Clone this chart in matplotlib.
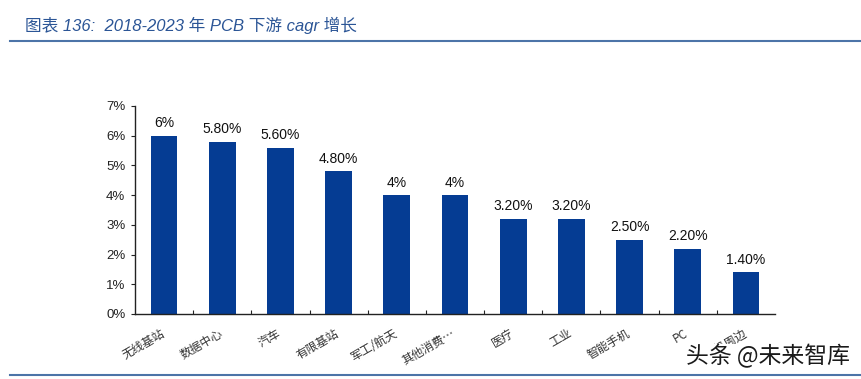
import numpy as np
import matplotlib
matplotlib.use("Agg")
import matplotlib.pyplot as plt
from matplotlib.ticker import FuncFormatter, FixedLocator

# data
categories = ["无线基站", "数据中心", "汽车", "有限基站", "军工/航天", "其他消费…",
              "医疗", "工业", "智能手机", "PC", "计算机周边"]
cagr = [0.060, 0.058, 0.056, 0.048, 0.040, 0.040, 0.032, 0.032, 0.025, 0.022, 0.014]
value_labels = ["6%", "5.80%", "5.60%", "4.80%", "4%", "4%", "3.20%", "3.20%",
                "2.50%", "2.20%", "1.40%"]
title = "图表 136:  2018-2023 年 PCB 下游 cagr 增长"
watermark = "头条 @未来智库"

bar_color = "#053C93"
title_color = "#2B5596"
line_color = "#4C74A8"

plt.rcParams["font.family"] = ["Liberation Sans", "Noto Sans CJK SC", "DejaVu Sans"]

W, H = 862, 379
fig = plt.figure(figsize=(W / 100, H / 100), dpi=100)
ax = fig.add_axes([135 / W, (H - 314) / H, 640 / W, 208 / H])

x = np.arange(len(categories))
ax.bar(x, cagr, width=0.46, color=bar_color, zorder=2)
ax.set_xlim(-0.5, len(categories) - 0.5)
ax.set_ylim(0, 0.07)

# value labels above bars
for xi, v, lab in zip(x, cagr, value_labels):
    ax.annotate(lab, (xi, v), xytext=(0, 4), textcoords="offset points",
                ha="center", va="bottom", fontsize=10, color="#111111")

# axes styling
for s in ["top", "right"]:
    ax.spines[s].set_visible(False)
for s in ["left", "bottom"]:
    ax.spines[s].set_color("#222222")
    ax.spines[s].set_linewidth(1.0)

ax.set_yticks(np.arange(0, 0.071, 0.01))
ax.yaxis.set_major_formatter(FuncFormatter(lambda v, p: f"{v * 100:.0f}%"))
ax.tick_params(axis="y", direction="out", length=3, width=0.8,
               labelsize=9.5, colors="#222222", pad=4)

# ticks between bars, labels at bar centres
ax.xaxis.set_major_locator(FixedLocator(x[:-1] + 0.5))
ax.tick_params(axis="x", which="major", direction="in", length=3, width=0.8,
               labelbottom=False, colors="#222222")
for xi, c in zip(x, categories):
    ax.text(xi + 0.05, -0.0042, c, rotation=30, ha="right", va="top",
            fontsize=8.5, color="#333333",
            family=["Noto Sans CJK SC", "DejaVu Sans"])

# header
fig.text(25 / W, 1 - 25 / H, title, ha="left", va="center", fontsize=12,
         style="italic", color=title_color,
         family=["Liberation Sans", "Noto Sans CJK SC"])
fig.add_artist(plt.Line2D([10 / W, 1], [1 - 41 / H, 1 - 41 / H],
                          color=line_color, lw=1.5, transform=fig.transFigure))
fig.add_artist(plt.Line2D([10 / W, 1], [1 - 375 / H, 1 - 375 / H],
                          color=line_color, lw=1.5, transform=fig.transFigure))

# watermark
fig.text(850 / W, 1 - 356 / H, watermark, ha="right", va="center",
         fontsize=16.5, color="#1a1a1a",
         family=["Noto Sans CJK SC", "DejaVu Sans"],
         bbox=dict(facecolor="white", edgecolor="none", pad=0))

fig.savefig("out.png", dpi=100)
